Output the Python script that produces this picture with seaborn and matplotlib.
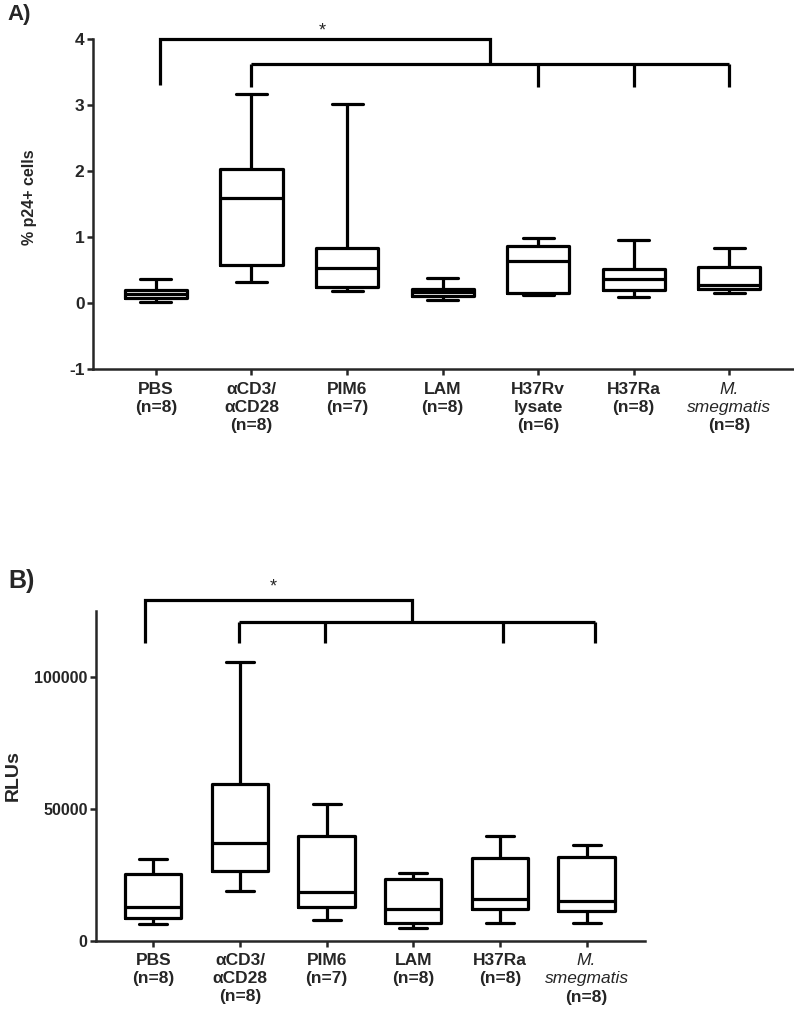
import pandas as pd
import matplotlib
matplotlib.use("Agg")
import matplotlib.pyplot as plt
import seaborn as sns

# panel A: % p24+ cells, five-number summaries
a_groups = ["PBS\n(n=8)", "αCD3/\nαCD28\n(n=8)", "PIM6\n(n=7)", "LAM\n(n=8)",
            "H37Rv\nlysate\n(n=6)", "H37Ra\n(n=8)", "M. smegmatis\n(n=8)"]
a_min = [0.02, 0.32, 0.18, 0.05, 0.12, 0.09, 0.15]
a_q1 = [0.07, 0.58, 0.25, 0.11, 0.15, 0.20, 0.21]
a_med = [0.13, 1.59, 0.53, 0.16, 0.64, 0.37, 0.28]
a_q3 = [0.19, 2.03, 0.84, 0.22, 0.87, 0.52, 0.55]
a_max = [0.36, 3.16, 3.02, 0.38, 0.99, 0.95, 0.84]

# panel B: RLUs
b_groups = ["PBS\n(n=8)", "αCD3/\nαCD28\n(n=8)", "PIM6\n(n=7)", "LAM\n(n=8)",
            "H37Ra\n(n=8)", "M. smegmatis\n(n=8)"]
b_min = [6300, 18900, 7900, 5000, 6900, 6900]
b_q1 = [8800, 26500, 13000, 6900, 12100, 11300]
b_med = [12900, 37000, 18400, 12100, 15900, 15100]
b_q3 = [25500, 59300, 39700, 23300, 31500, 31900]
b_max = [31000, 105600, 51700, 25900, 39700, 36200]

# last label is split: italic species name, bold n below
species = "M.\nsmegmatis"
species_n = "(n=8)"

FS = 12.5
LS = 1.25


def long_form(groups, *stats):
    rows = []
    for i, g in enumerate(groups):
        for s in stats:
            rows.append({"group": g, "value": s[i]})
    return pd.DataFrame(rows)


def draw_box(ax, df, order, ysize):
    sns.boxplot(data=df, x="group", y="value", order=order, whis=(0, 100),
                fill=False, color="black", linecolor="black", linewidth=2.3,
                width=0.65, showfliers=False, ax=ax)
    ax.set_xlabel("")
    sns.despine(ax=ax)
    for side in ["left", "bottom"]:
        ax.spines[side].set_linewidth(1.8)
    ax.tick_params(axis="both", width=1.8, length=4)
    ax.tick_params(axis="x", pad=5, labelsize=FS)
    ax.tick_params(axis="y", pad=2, labelsize=ysize)
    ax.set_xticks(range(len(order)))
    ax.set_xticklabels(order[:-1] + [""])
    for lab in ax.get_xticklabels() + ax.get_yticklabels():
        lab.set_fontweight("bold")
        lab.set_linespacing(LS)
    last = len(order) - 1
    ax.annotate(species, xy=(last, 0), xycoords=("data", "axes fraction"),
                xytext=(0, -9), textcoords="offset points", ha="center", va="top",
                fontsize=FS, fontstyle="italic", linespacing=LS,
                annotation_clip=False)
    ax.annotate(species_n, xy=(last, 0), xycoords=("data", "axes fraction"),
                xytext=(0, -9 - 2 * 0.85 * LS * FS), textcoords="offset points",
                ha="center", va="top", fontsize=FS, fontweight="bold",
                annotation_clip=False)


def bracket(ax, xs, ys):
    ax.plot(xs, ys, color="black", lw=2.3, clip_on=False,
            solid_joinstyle="miter", solid_capstyle="butt")


sns.set_style("ticks")
plt.rcParams["font.family"] = ["Liberation Sans", "DejaVu Sans"]
plt.rcParams["axes.unicode_minus"] = False

fig = plt.figure(figsize=(7.94, 10.13), dpi=100)

# ---- panel A
axA = fig.add_axes([0.117, 0.6357, 0.882, 0.3258])
dfA = long_form(a_groups, a_min, a_q1, a_med, a_q3, a_max)
draw_box(axA, dfA, a_groups, 12.5)
axA.set_ylim(-1, 4)
axA.set_yticks([-1, 0, 1, 2, 3, 4])
axA.set_xlim(-0.66, 6.67)
axA.set_ylabel("% p24+ cells", fontsize=11.5, fontweight="bold")
axA.yaxis.set_label_coords(-0.08, 0.52)

bracket(axA, [0.04, 0.04, 3.5, 3.5], [3.30, 4.0, 4.0, 3.62])
bracket(axA, [1, 6], [3.62, 3.62])
for xp in [1, 4, 5, 6]:
    bracket(axA, [xp, xp], [3.62, 3.28])
axA.text(1.74, 4.0, "*", ha="center", va="bottom", fontsize=13)

# ---- panel B
axB = fig.add_axes([0.121, 0.0711, 0.691, 0.3258])
dfB = long_form(b_groups, b_min, b_q1, b_med, b_q3, b_max)
draw_box(axB, dfB, b_groups, 11.5)
axB.set_ylim(0, 125000)
axB.set_yticks([0, 50000, 100000])
axB.set_xlim(-0.66, 5.67)
axB.set_ylabel("RLUs", fontsize=14, fontweight="bold")
axB.yaxis.set_label_coords(-0.135, 0.5)

bracket(axB, [-0.1, -0.1, 2.99, 2.99], [112700, 129000, 129000, 120700])
bracket(axB, [0.99, 5.1], [120700, 120700])
for xp in [0.99, 1.98, 4.04, 5.1]:
    bracket(axB, [xp, xp], [120700, 112700])
axB.text(1.38, 131000, "*", ha="center", va="bottom", fontsize=13)

fig.text(0.009, 0.986, "A)", fontsize=16, fontweight="bold", va="center")
fig.text(0.01, 0.4265, "B)", fontsize=18, fontweight="bold", va="center")

fig.savefig("out.png", dpi=100)
